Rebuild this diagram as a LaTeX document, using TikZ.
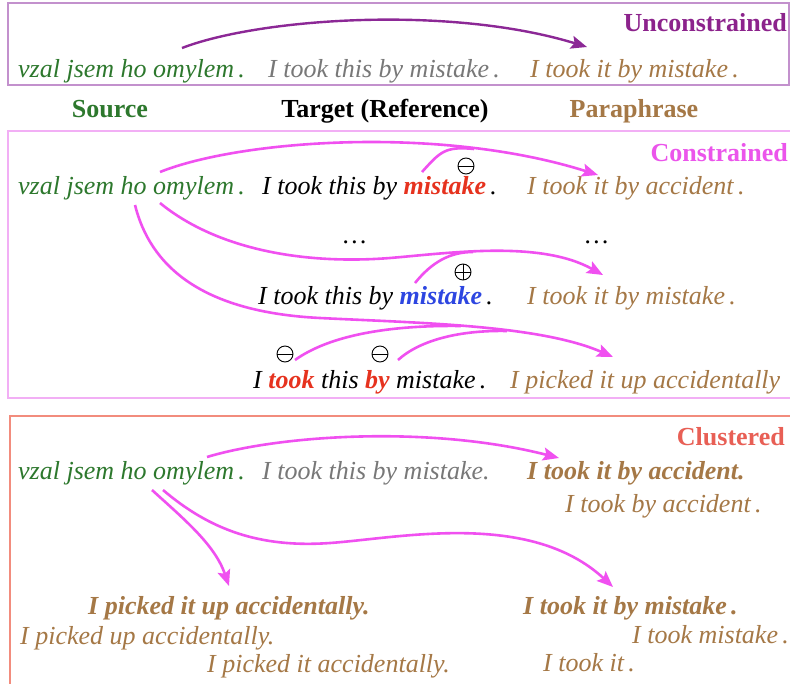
\documentclass[tikz,border=0pt]{standalone}
\usepackage{fontspec}
\setmainfont{LiberationSerif}[
  Extension=.ttf,
  UprightFont=*-Regular,
  ItalicFont=*-Italic,
  BoldFont=*-Bold,
  BoldItalicFont=*-BoldItalic]
\usetikzlibrary{arrows.meta}

\definecolor{srcgreen}{RGB}{45,120,45}
\definecolor{tgtgray}{RGB}{120,120,120}
\definecolor{parbrown}{RGB}{165,120,70}
\definecolor{uncpurple}{RGB}{140,35,140}
\definecolor{uncborder}{RGB}{195,145,205}
\definecolor{uncarrow}{RGB}{140,40,150}
\definecolor{conlabel}{RGB}{235,85,235}
\definecolor{conborder}{RGB}{242,175,245}
\definecolor{conarrow}{RGB}{240,80,240}
\definecolor{clulabel}{RGB}{232,95,85}
\definecolor{cluborder}{RGB}{242,140,125}
\definecolor{redword}{RGB}{230,50,30}
\definecolor{blueword}{RGB}{45,70,225}

\begin{document}
\begin{tikzpicture}[x=1pt,y=-1pt,
  txt/.style={inner sep=0pt, font=\fontsize{26}{30}\selectfont\itshape},
  btxt/.style={inner sep=0pt, font=\fontsize{26}{30}\selectfont\bfseries\itshape},
  head/.style={inner sep=0pt, font=\fontsize{26}{30}\selectfont\bfseries},
  frame/.style={line width=2pt},
  link/.style={line width=2.6pt, conarrow, -{Stealth[length=16pt,width=13pt,inset=3pt]}},
  joinlink/.style={line width=2.6pt, conarrow},
  minusmark/.style={circle, draw, line width=0.9pt, minimum size=16pt, inner sep=0pt,
    path picture={\draw[line width=0.9pt] (path picture bounding box.west) -- (path picture bounding box.east);}},
  plusmark/.style={circle, draw, line width=0.9pt, minimum size=16pt, inner sep=0pt,
    path picture={\draw[line width=0.9pt] (path picture bounding box.west) -- (path picture bounding box.east)
      (path picture bounding box.north) -- (path picture bounding box.south);}}]

\useasboundingbox (0,0) rectangle (790,683);
\fill[white] (0,0) rectangle (790,683);

% ---------- frames ----------
\draw[frame, uncborder] (8,3) rectangle (789,85);
\draw[frame, conborder] (8,131) rectangle (800,398);
\draw[frame, cluborder] (10,416) rectangle (800,700);

% ---------- unconstrained ----------
\node[head, text=uncpurple, anchor=base east] (hunc) at (787,31) {Unconstrained};
\node[txt, text=srcgreen, anchor=base west] (s1) at (18,77) {vzal jsem ho omylem\,.};
\node[txt, text=tgtgray, anchor=base west] (t1) at (268,77) {I took this by mistake\,.};
\node[txt, text=parbrown, anchor=base west] (p1) at (530,77) {I took it by mistake\,.};

\coordinate (u0) at (182,48);
\coordinate (u1) at (587,47);
\draw[line width=2.4pt, uncarrow, -{Stealth[length=16pt,width=13pt,inset=3pt]}]
  (u0) .. controls (260,18) and (450,5) .. (u1);

% ---------- column headings ----------
\node[head, text=srcgreen, anchor=base] (hsrc) at (110,117) {Source};
\node[head, text=black, anchor=base] (htgt) at (385,117) {Target (Reference)};
\node[head, text=parbrown, anchor=base] (hpar) at (634,117) {Paraphrase};

% ---------- constrained ----------
\node[head, text=conlabel, anchor=base east] (hcon) at (788,161) {Constrained};
\node[txt, text=srcgreen, anchor=base west] (s2) at (18,194) {vzal jsem ho omylem\,.};
\node[txt, text=black, anchor=base west] (t2a) at (262,194) {I took this by {\bfseries\color{redword}mistake}\,.};
\node[txt, text=parbrown, anchor=base west] (p2a) at (527,194) {I took it by accident\,.};
\node[txt, text=black, anchor=base] (d1) at (355,243) {\ldots};
\node[txt, text=black, anchor=base] (d2) at (597,243) {\ldots};
\node[txt, text=black, anchor=base west] (t2b) at (258,304) {I took this by {\bfseries\color{blueword}mistake}\,.};
\node[txt, text=parbrown, anchor=base west] (p2b) at (527,304) {I took it by mistake\,.};
\node[txt, text=black, anchor=base west] (t2c) at (253,388) {I {\bfseries\color{redword}took} this {\bfseries\color{redword}by} mistake\,.};
\node[txt, text=parbrown, anchor=base west] (p2c) at (510,388) {I picked it up accidentally};

\node[minusmark] (m1) at (466,166) {};
\node[plusmark] (m2) at (463,272) {};
\node[minusmark] (m3) at (285,354) {};
\node[minusmark] (m4) at (380,354) {};

% source to first paraphrase, with the "mistake" edit joining in
\coordinate (a0) at (160,172);
\coordinate (a1) at (598,175);
\coordinate (ja) at (474,149);
\coordinate (ba) at (422,172);
\draw[link] (a0) .. controls (240,140) and (440,125) .. (a1);
\draw[joinlink] (ba) .. controls (440,152) and (445,146) .. (ja);

% source to second paraphrase
\coordinate (b0) at (160,203);
\coordinate (bm) at (390,258);
\coordinate (b1) at (603,275);
\coordinate (jb) at (473,252);
\coordinate (bb) at (415,283);
\draw[link] (b0) .. controls (215,248) and (300,265) .. (bm)
  .. controls (450,253) and (540,240) .. (b1);
\draw[joinlink] (bb) .. controls (432,262) and (450,252) .. (jb);

% source to third paraphrase, with two edits joining in
\coordinate (c0) at (135,205);
\coordinate (cm) at (320,318);
\coordinate (c1) at (613,357);
\coordinate (jc) at (461,326);
\coordinate (jd) at (507,331);
\coordinate (bc) at (295,360);
\coordinate (bd) at (398,360);
\draw[link] (c0) .. controls (150,265) and (200,312) .. (cm)
  .. controls (420,323) and (540,325) .. (c1);
\draw[joinlink] (bc) .. controls (330,335) and (390,325) .. (jc);
\draw[joinlink] (bd) .. controls (420,340) and (460,330) .. (jd);

% ---------- clustered ----------
\node[head, text=clulabel, anchor=base east] (hclu) at (785,445) {Clustered};
\node[txt, text=srcgreen, anchor=base west] (s3) at (18,479) {vzal jsem ho omylem\,.};
\node[txt, text=tgtgray, anchor=base west] (t3) at (262,479) {I took this by mistake.};
\node[btxt, text=parbrown, anchor=base west] (k1) at (527,479) {I took it by accident.};
\node[txt, text=parbrown, anchor=base west] (k1a) at (565,512) {I took by accident\,.};
\node[btxt, text=parbrown, anchor=base west] (k2) at (88,614) {I picked it up accidentally.};
\node[txt, text=parbrown, anchor=base west] (k2a) at (20,644) {I picked up accidentally.};
\node[txt, text=parbrown, anchor=base west] (k2b) at (207,672) {I picked it accidentally.};
\node[btxt, text=parbrown, anchor=base west] (k3) at (523,614) {I took it by mistake\,.};
\node[txt, text=parbrown, anchor=base west] (k3a) at (632,643) {I took mistake\,.};
\node[txt, text=parbrown, anchor=base west] (k3b) at (543,671) {I took it\,.};

\coordinate (e0) at (207,457);
\coordinate (e1) at (559,458);
\draw[link] (e0) .. controls (280,435) and (430,425) .. (e1);

\coordinate (f0) at (152,490);
\coordinate (f1) at (229,586);
\draw[link] (f0) .. controls (185,520) and (215,545) .. (f1);

\coordinate (g0) at (163,490);
\coordinate (gm) at (330,543);
\coordinate (g1) at (613,587);
\draw[link] (g0) .. controls (210,530) and (260,548) .. (gm)
  .. controls (400,538) and (530,510) .. (g1);

\end{tikzpicture}
\end{document}
